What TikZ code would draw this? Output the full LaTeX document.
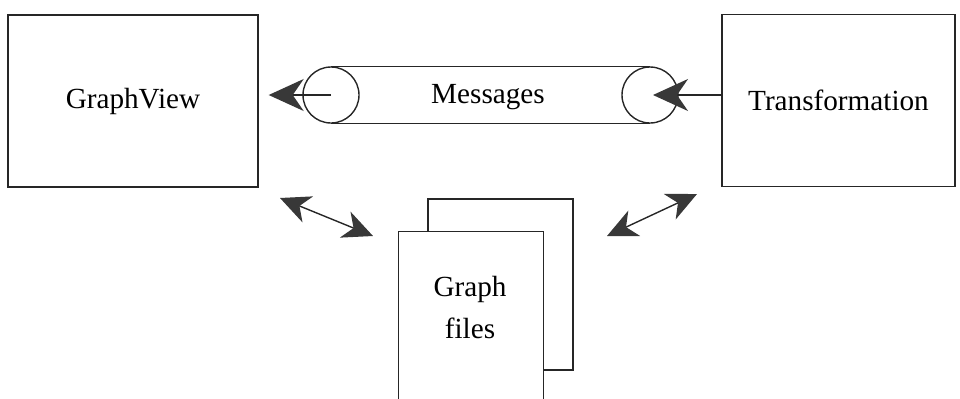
\documentclass[tikz,border=0pt]{standalone}
\usepackage{fontspec}
\setmainfont{Liberation Serif}
\usetikzlibrary{arrows.meta, positioning, calc}

\begin{document}
\begin{tikzpicture}[x=0.5pt, y=-0.5pt,
    font=\fontsize{14.6}{19}\selectfont,
    line width=0.7pt, draw=black!85,
    block/.style={rectangle, draw=black!85, minimum width=125pt, minimum height=86pt, inner sep=0pt},
    pipeend/.style={circle, draw=black!85, minimum size=28pt, inner sep=0pt},
    page/.style={rectangle, draw=black!85, fill=white, minimum width=72.5pt, minimum height=85.5pt, inner sep=0pt},
    bigtip/.style={-{Stealth[length=17.5pt, width=16pt, inset=5.5pt, fill=black!78, color=black!78]}},
    twotip/.style={{Stealth[length=15pt, width=14pt, inset=4.5pt, fill=black!78, color=black!78]}-{Stealth[length=15pt, width=14pt, inset=4.5pt, fill=black!78, color=black!78]}}]
    \useasboundingbox (0,0) rectangle (960,398);

    % the two programs
    \node[block, minimum width=125pt] (gv) at (133,101) {GraphView};
    \node[block, minimum width=116.5pt] (tr) at (838.5,100.5) {Transformation};

    % message pipe
    \node[pipeend] (lend) at (331,95) {};
    \node[pipeend] (rend) at (650,95) {};
    \draw (lend.north) -- (rend.north);
    \draw (lend.south) -- (rend.south);
    \node (msg) at (488,97) {Messages};

    \draw[bigtip, black!85] (lend.center) -- ($(lend.center -| gv.east)+(10,0)$);
    \draw[bigtip, black!85] (rend.center -| tr.west) -- ([xshift=1.5pt]rend.center);

    % graph files
    \node[page, minimum height=85.5pt] (back) at (500.5,284.5) {};
    \node[page, minimum height=100pt, anchor=north west] (front) at (398,231) {};
    \node[align=center, font=\fontsize{14.6}{21}\selectfont] (gf) at (470,308) {Graph\\files};

    % access to the files
    \coordinate (l1) at (280,198);
    \coordinate (l2) at (373,236);
    \coordinate (r1) at (607,236);
    \coordinate (r2) at (697,194);
    \draw[twotip, black!85] (l1) -- (l2);
    \draw[twotip, black!85] (r1) -- (r2);
\end{tikzpicture}
\end{document}
